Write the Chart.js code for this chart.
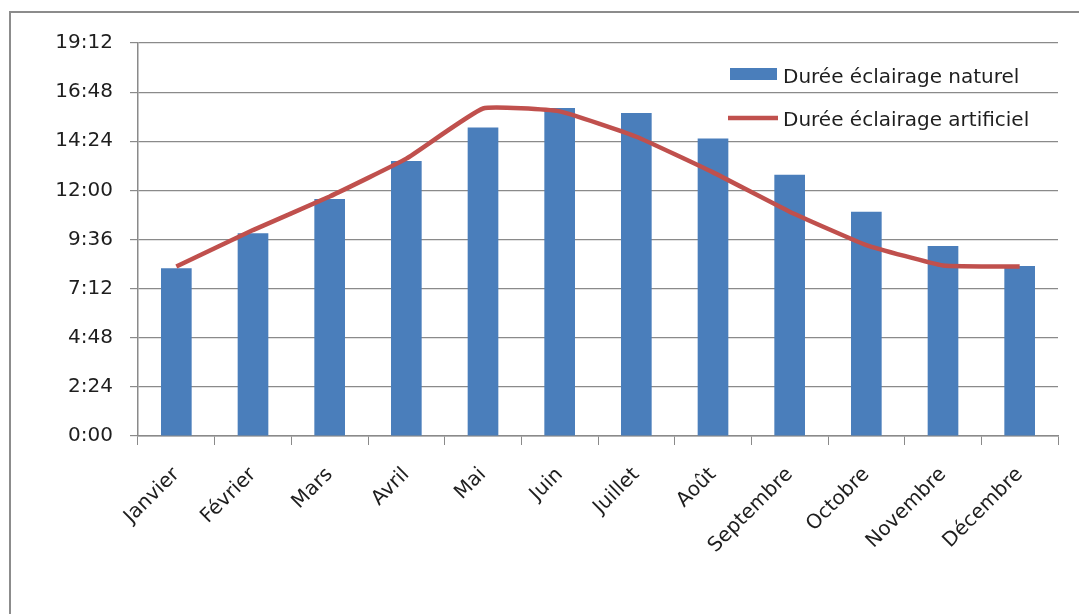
<!DOCTYPE html>
<html lang="fr">
<head>
<meta charset="utf-8">
<title>Durée d'éclairage</title>
<script src="https://cdn.jsdelivr.net/npm/chart.js@4.4.1/dist/chart.umd.min.js"></script>
<style>
  html, body { margin: 0; padding: 0; background: #fff; overflow: hidden; }
  #wrap { position: relative; width: 1079px; height: 614px; overflow: hidden; }
  #frame {
    position: absolute; left: 9px; top: 11px; width: 1200px; height: 800px;
    border-left: 2px solid #8c8c8c; border-top: 2px solid #8c8c8c;
  }
  canvas { position: absolute; left: 0; top: 0; }
</style>
</head>
<body>
<div id="wrap">
  <div id="frame"></div>
  <canvas id="lightChart" width="1079" height="614"></canvas>
</div>
<script>
const months = ["Janvier", "Février", "Mars", "Avril", "Mai", "Juin",
  "Juillet", "Août", "Septembre", "Octobre", "Novembre", "Décembre"];

// hours per day
const naturalHours = [8.19, 9.9, 11.58, 13.44, 15.07, 16.02, 15.78, 14.53, 12.76, 10.96, 9.28, 8.3];
const artificialHours = [8.28, 10.06, 11.7, 13.55, 16.0, 15.86, 14.62, 12.88, 10.96, 9.33, 8.33, 8.28];

const yTickLabels = ["0:00", "2:24", "4:48", "7:12", "9:36", "12:00", "14:24", "16:48", "19:12"];

const gridColor = "#8a8a8a";
const textColor = "#1e1e1e";

Chart.defaults.font.family = "'DejaVu Sans'";
Chart.defaults.font.size = 20;
Chart.defaults.color = textColor;

// legend drawn inside the plot, top right
const legendInside = {
  id: "legendInside",
  afterDatasetsDraw(chart) {
    const c = chart.ctx;
    const area = chart.chartArea;
    const [bars, line] = chart.data.datasets;
    const x = area.right - 328;
    c.save();
    c.fillStyle = bars.backgroundColor;
    c.fillRect(x, area.top + 25, 47, 12);
    c.strokeStyle = line.borderColor;
    c.lineWidth = line.borderWidth;
    c.beginPath();
    c.moveTo(x - 2, area.top + 75);
    c.lineTo(x + 48, area.top + 75);
    c.stroke();
    c.font = "20px 'DejaVu Sans'";
    c.fillStyle = textColor;
    c.textBaseline = "alphabetic";
    c.fillText(bars.label, x + 53, area.top + 40);
    c.fillText(line.label, x + 53, area.top + 83);
    c.restore();
  },
};

const ctx = document.getElementById("lightChart").getContext("2d");
const lightChart = new Chart(ctx, {
  type: "bar",
  data: {
    labels: months,
    datasets: [
      {
        type: "bar",
        label: "Durée éclairage naturel",
        data: naturalHours,
        backgroundColor: "#4a7ebb",
        barPercentage: 0.4,
        categoryPercentage: 1,
        order: 2,
      },
      {
        type: "line",
        label: "Durée éclairage artificiel",
        data: artificialHours,
        borderColor: "#c0504d",
        borderWidth: 4.5,
        pointRadius: 0,
        tension: 0.12,
        order: 1,
      },
    ],
  },
  options: {
    responsive: false,
    animation: false,
    devicePixelRatio: 1,
    layout: { padding: { top: 43, right: 21, left: 0, bottom: 0 } },
    plugins: { legend: { display: false }, tooltip: { enabled: false } },
    scales: {
      x: {
        offset: true,
        grid: { display: true, drawOnChartArea: false, color: gridColor, tickLength: 9 },
        border: { color: gridColor, width: 1.5 },
        ticks: { minRotation: 45, maxRotation: 45, padding: 18 },
        afterFit: (scale) => { scale.height = 178; },
      },
      y: {
        min: 0,
        max: 19.2,
        grid: { color: gridColor, tickLength: 8, lineWidth: 1.2 },
        border: { color: gridColor, width: 1.5 },
        ticks: {
          stepSize: 2.4,
          padding: 17,
          callback: (value, index) => yTickLabels[index],
        },
        afterFit: (scale) => { scale.width = 138; },
      },
    },
  },
  plugins: [legendInside],
});
</script>
</body>
</html>
